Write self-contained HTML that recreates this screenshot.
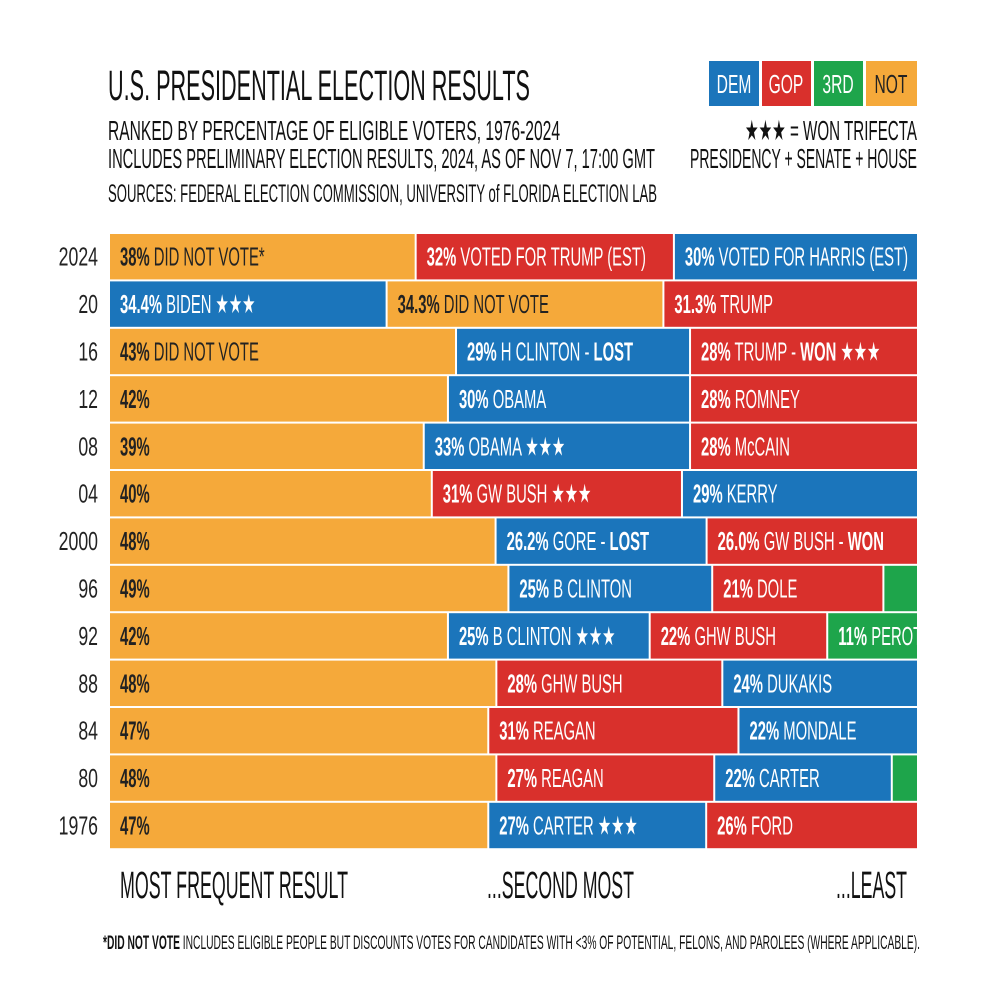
<!DOCTYPE html>
<html><head><meta charset="utf-8"><style>
body{margin:0;background:#fff}
svg{display:block}
text{font-family:"Liberation Sans Narrow","Liberation Sans",sans-serif}
</style></head><body>
<svg id="chart" width="1000" height="1000" viewBox="0 0 1000 1000" xmlns="http://www.w3.org/2000/svg">
<rect width="1000" height="1000" fill="#fff"/>
<text x="108" y="100" font-size="43" textLength="422" lengthAdjust="spacingAndGlyphs" fill="#111">U.S. PRESIDENTIAL ELECTION RESULTS</text>
<text x="108" y="140" font-size="28" textLength="452" lengthAdjust="spacingAndGlyphs" fill="#111">RANKED BY PERCENTAGE OF ELIGIBLE VOTERS, 1976-2024</text>
<text x="108" y="168" font-size="28" textLength="547" lengthAdjust="spacingAndGlyphs" fill="#111">INCLUDES PRELIMINARY ELECTION RESULTS, 2024, AS OF NOV 7, 17:00 GMT</text>
<text x="108" y="202" font-size="25" textLength="549" lengthAdjust="spacingAndGlyphs" fill="#111">SOURCES: FEDERAL ELECTION COMMISSION, UNIVERSITY of FLORIDA ELECTION LAB</text>
<g>
<rect x="709" y="61" width="50" height="45" fill="#1b75bb"/>
<text transform="translate(734,93) scale(0.6,1)" font-size="26" text-anchor="middle" fill="#fff">DEM</text>
<rect x="762" y="61" width="49" height="45" fill="#d9302c"/>
<text transform="translate(786,93) scale(0.6,1)" font-size="26" text-anchor="middle" fill="#fff">GOP</text>
<rect x="814" y="61" width="49" height="45" fill="#1ea54b"/>
<text transform="translate(838,93) scale(0.6,1)" font-size="26" text-anchor="middle" fill="#fff">3RD</text>
<rect x="866" y="61" width="51" height="45" fill="#f5a93a"/>
<text transform="translate(891,93) scale(0.6,1)" font-size="26" text-anchor="middle" fill="#222">NOT</text>
</g>
<text x="917" y="140" font-size="28" text-anchor="end" textLength="172" lengthAdjust="spacingAndGlyphs" fill="#111">★★★ = WON TRIFECTA</text>
<text x="917" y="168" font-size="28" text-anchor="end" textLength="227" lengthAdjust="spacingAndGlyphs" fill="#111">PRESIDENCY + SENATE + HOUSE</text>
<g id="bars"></g>
<text x="120" y="898" font-size="38" textLength="228" lengthAdjust="spacingAndGlyphs" fill="#111">MOST FREQUENT RESULT</text>
<text x="487" y="898" font-size="38" textLength="147" lengthAdjust="spacingAndGlyphs" fill="#111">...SECOND MOST</text>
<text x="836" y="898" font-size="38" textLength="71" lengthAdjust="spacingAndGlyphs" fill="#111">...LEAST</text>
<text x="103" y="949" font-size="19" textLength="817" lengthAdjust="spacingAndGlyphs" fill="#111"><tspan font-weight="bold">*DID NOT VOTE</tspan> INCLUDES ELIGIBLE PEOPLE BUT DISCOUNTS VOTES FOR CANDIDATES WITH &lt;3% OF POTENTIAL, FELONS, AND PAROLEES (WHERE APPLICABLE).</text>
</svg>
<script>
const years = ["2024","20","16","12","08","04","2000","96","92","88","84","80","1976"];
const parties = [
 ["NOT","GOP","DEM"],["DEM","NOT","GOP"],["NOT","DEM","GOP"],["NOT","DEM","GOP"],["NOT","DEM","GOP"],
 ["NOT","GOP","DEM"],["NOT","DEM","GOP"],["NOT","DEM","GOP","3RD"],["NOT","DEM","GOP","3RD"],
 ["NOT","GOP","DEM"],["NOT","GOP","DEM"],["NOT","GOP","DEM","3RD"],["NOT","DEM","GOP"]];
const values = [
 [38,32,30],[34.4,34.3,31.3],[43,29,28],[42,30,28],[39,33,28],[40,31,29],[48,26.2,26.0],
 [49,25,21,4],[42,25,22,11],[48,28,24],[47,31,22],[48,27,22,3],[47,27,26]];
const valueLabels = [
 ["38%","32%","30%"],["34.4%","34.3%","31.3%"],["43%","29%","28%"],["42%","30%","28%"],["39%","33%","28%"],
 ["40%","31%","29%"],["48%","26.2%","26.0%"],["49%","25%","21%",""],["42%","25%","22%","11%"],
 ["48%","28%","24%"],["47%","31%","22%"],["48%","27%","22%",""],["47%","27%","26%"]];
const names = [
 [" DID NOT VOTE*"," VOTED FOR TRUMP (EST)"," VOTED FOR HARRIS (EST)"],
 [" BIDEN ★★★"," DID NOT VOTE"," TRUMP"],
 [" DID NOT VOTE"," H CLINTON - |LOST"," TRUMP - |WON| ★★★"],
 [""," OBAMA"," ROMNEY"],[""," OBAMA ★★★"," McCAIN"],[""," GW BUSH ★★★"," KERRY"],
 [""," GORE - |LOST"," GW BUSH - |WON"],[""," B CLINTON"," DOLE",""],
 [""," B CLINTON ★★★"," GHW BUSH"," PEROT"],[""," GHW BUSH"," DUKAKIS"],
 [""," REAGAN"," MONDALE"],[""," REAGAN"," CARTER",""],[""," CARTER ★★★"," FORD"]];
const colors = {DEM:"#1b75bb",GOP:"#d9302c","3RD":"#1ea54b",NOT:"#f5a93a"};
const X0=110, X1=917, Y0=234, PITCH=47.4, GAP=2;
const NS="http://www.w3.org/2000/svg";
const g=document.getElementById('bars');
function xScale(v,total){return X0+(v/total)*(X1-X0);}
function yScale(i){return Y0+i*PITCH;}
years.forEach((yr,i)=>{
  const y=yScale(i), h=PITCH-GAP;
  const yl=document.createElementNS(NS,'text');
  
  
  yl.setAttribute('transform','translate(98,'+(y+h/2+9)+') scale(0.68,1)');
  yl.setAttribute('font-size','26');
  yl.setAttribute('text-anchor','end');yl.setAttribute('fill','#222');yl.textContent=yr;
  g.appendChild(yl);
  const total=values[i].reduce((a,b)=>a+b,0);
  let cum=0;
  values[i].forEach((v,j)=>{
    const xa=xScale(cum,total), xb=xScale(cum+v,total); cum+=v;
    const r=document.createElementNS(NS,'rect');
    
    
    r.setAttribute('x',xa);r.setAttribute('y',y);
    r.setAttribute('width',Math.max(0,xb-xa-(j<values[i].length-1?2:0)));r.setAttribute('height',h);
    r.setAttribute('fill',colors[parties[i][j]]);
    g.appendChild(r);
    if(valueLabels[i][j]){
      const t=document.createElementNS(NS,'text');
      
      
      t.setAttribute('transform','translate('+(xa+10)+','+(y+h/2+9)+') scale(0.57,1)');
      t.setAttribute('font-size','26');
      t.setAttribute('fill',parties[i][j]==='NOT'?'#222':'#fff');
      const b=document.createElementNS(NS,'tspan');
      b.setAttribute('font-weight','bold');b.textContent=valueLabels[i][j];t.appendChild(b);
      const parts=names[i][j].split('|');
      parts.forEach((p,k)=>{
        const s=document.createElementNS(NS,'tspan');
        if(k===1)s.setAttribute('font-weight','bold');
        s.textContent=p;t.appendChild(s);
      });
      t.style.whiteSpace='pre';
      g.appendChild(t);
    }
  });
});
</script>
</body></html>
